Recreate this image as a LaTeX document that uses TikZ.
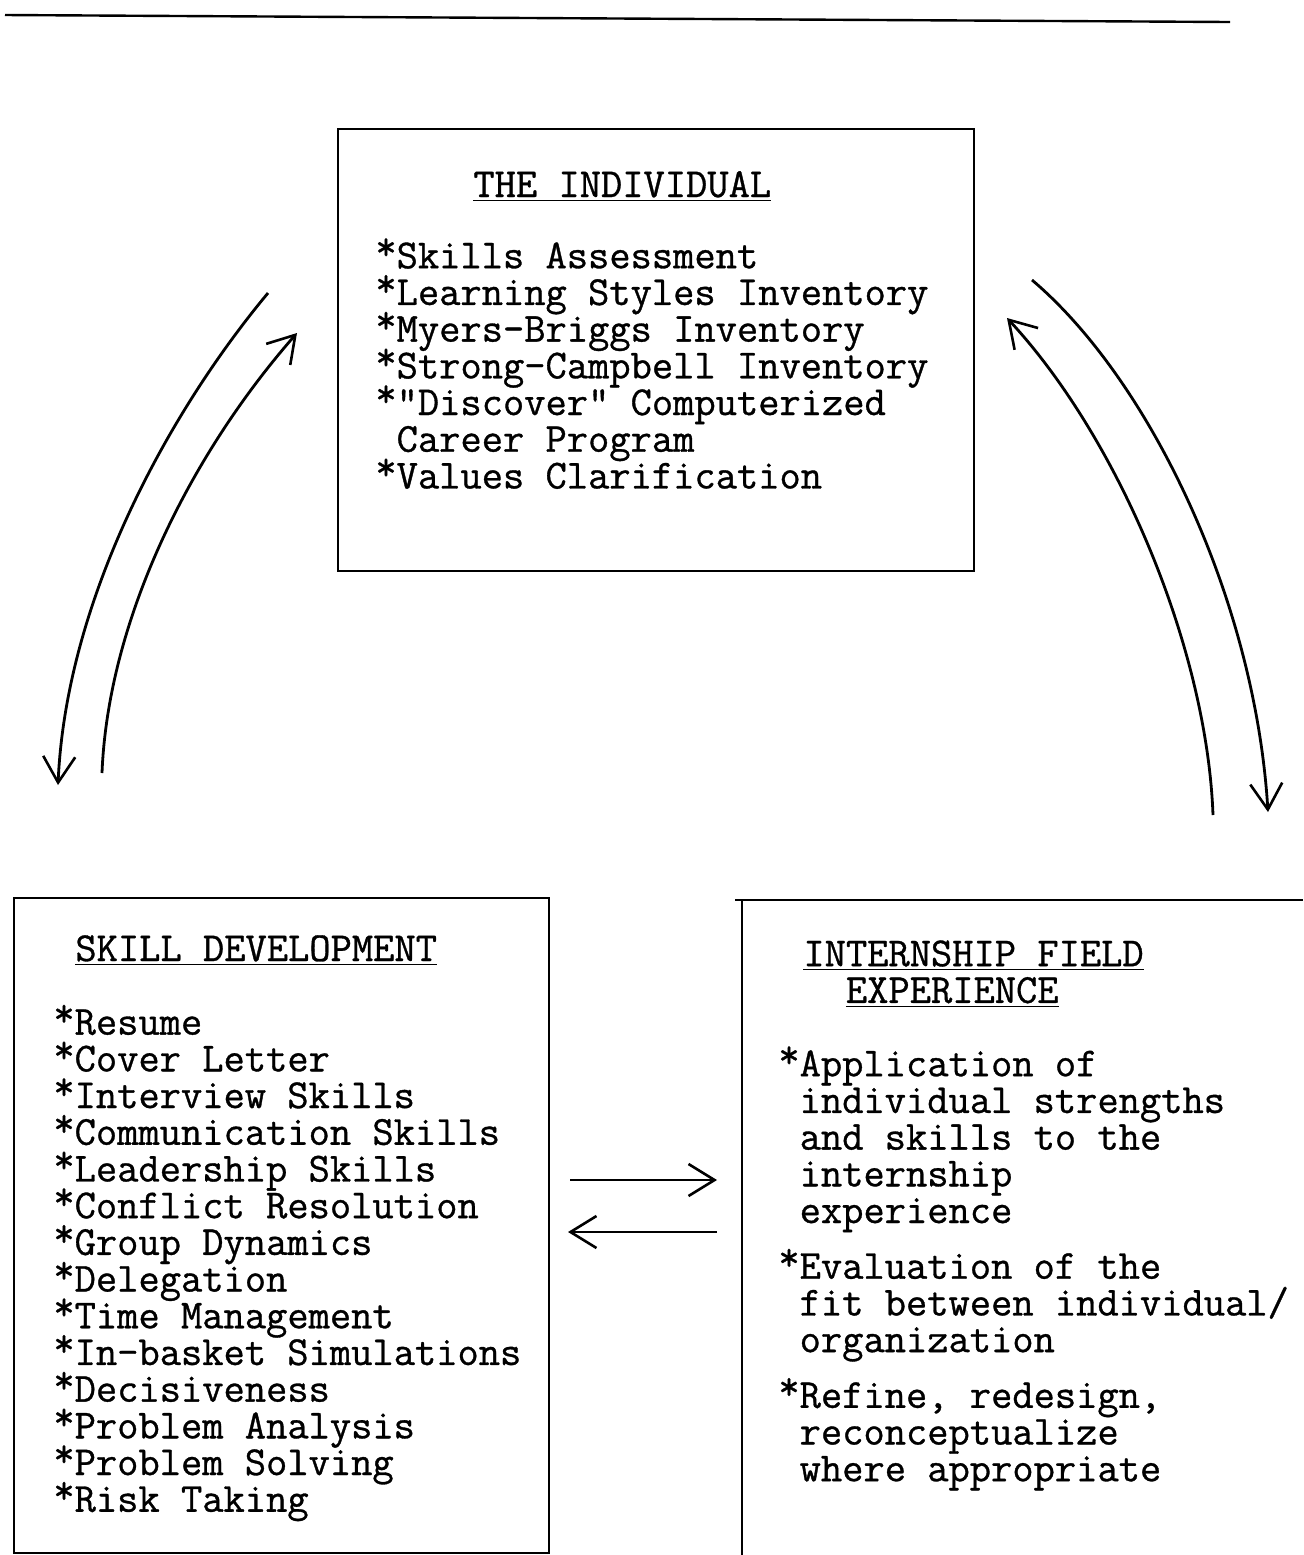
\documentclass[tikz,border=0pt]{standalone}
\usepackage{fontspec}
\usetikzlibrary{arrows.meta}
\newfontfamily\twfam{Latin Modern Mono}[FakeBold=0.8]
\newcommand\twfont{\fontsize{20.65pt}{18.35pt}\selectfont\twfam\lineskiplimit=-20pt\lineskip=0pt}
\newcommand\bulstar{\smash{\raisebox{0.2em}{*}}}
\tikzset{
  boxline/.style={line width=1.2pt},
  txt/.style={font=\twfont, align=left, inner sep=0pt},
  flow/.style={line width=1.4pt, -{Straight Barb[length=13pt,width=16pt,line width=1.3pt]}},
}
\begin{document}
\begin{tikzpicture}[x=0.5pt,y=-0.5pt]
\useasboundingbox (0,0) rectangle (1303,1555);

% top rule
\coordinate (ruleL) at (5,15);
\coordinate (ruleR) at (1230,22);
\draw[boxline] (ruleL) -- (ruleR);

% boxes
\node[boxline, draw, rectangle, minimum width=318pt, minimum height=221pt, anchor=north west, inner sep=0pt] (indiv) at (337,128) {};
\node[boxline, draw, rectangle, minimum width=267.5pt, minimum height=327.5pt, anchor=north west, inner sep=0pt] (skill) at (13,897) {};
\coordinate (intTL) at (742,900);
\coordinate (intTstart) at (735,900);
\coordinate (intTR) at (1303,900);
\coordinate (intBL) at (742,1555);
\draw[boxline] (intTstart) -- (intTR);
\draw[boxline] (intTL) -- (intBL);

% texts
\node[txt, anchor=base west] (t1) at (473,197) {\underline{THE INDIVIDUAL}};
\node[txt, anchor=north west] (l1) at (375,242) {\bulstar Skills Assessment\\
\bulstar Learning Styles Inventory\\
\bulstar Myers-Briggs Inventory\\
\bulstar Strong-Campbell Inventory\\
\bulstar"Discover" Computerized\\
\phantom{*}Career Program\\
\bulstar Values Clarification};

\node[txt, anchor=base west] (t2) at (75,961) {\underline{SKILL DEVELOPMENT}};
\node[txt, anchor=north west] (l2) at (53,1009) {\bulstar Resume\\
\bulstar Cover Letter\\
\bulstar Interview Skills\\
\bulstar Communication Skills\\
\bulstar Leadership Skills\\
\bulstar Conflict Resolution\\
\bulstar Group Dynamics\\
\bulstar Delegation\\
\bulstar Time Management\\
\bulstar In-basket Simulations\\
\bulstar Decisiveness\\
\bulstar Problem Analysis\\
\bulstar Problem Solving\\
\bulstar Risk Taking};

\node[txt, anchor=north west] (t3) at (803,940) {\underline{INTERNSHIP FIELD}\\
\phantom{XX}\underline{EXPERIENCE}};
\node[txt, anchor=north west] (l3) at (778,1050) {\bulstar Application of\\
\phantom{*}individual strengths\\
\phantom{*}and skills to the\\
\phantom{*}internship\\
\phantom{*}experience\\[9.5pt]
\bulstar Evaluation of the\\
\phantom{*}fit between individual/\\
\phantom{*}organization\\[9.5pt]
\bulstar Refine, redesign,\\
\phantom{*}reconceptualize\\
\phantom{*}where appropriate};

% curved arrows, left
\coordinate (aLs) at (268,293);
\coordinate (aLe) at (58,785);
\coordinate (bLs) at (102,773);
\coordinate (bLe) at (297,333);
\draw[flow] (aLs) .. controls (168,413) and (66,600) .. (aLe);
\draw[flow] (bLs) .. controls (108,620) and (190,455) .. (bLe);

% curved arrows, right
\coordinate (aRs) at (1032,280);
\coordinate (aRe) at (1268,812);
\coordinate (bRs) at (1213,815);
\coordinate (bRe) at (1007,318);
\draw[flow] (aRs) .. controls (1150,380) and (1255,600) .. (aRe);
\draw[flow] (bRs) .. controls (1207,650) and (1120,440) .. (bRe);

% horizontal arrows
\coordinate (hAs) at (570,1180);
\coordinate (hAe) at (717,1180);
\coordinate (hBs) at (717,1232);
\coordinate (hBe) at (568,1232);
\draw[flow] (hAs) -- (hAe);
\draw[flow] (hBs) -- (hBe);
\end{tikzpicture}
\end{document}
